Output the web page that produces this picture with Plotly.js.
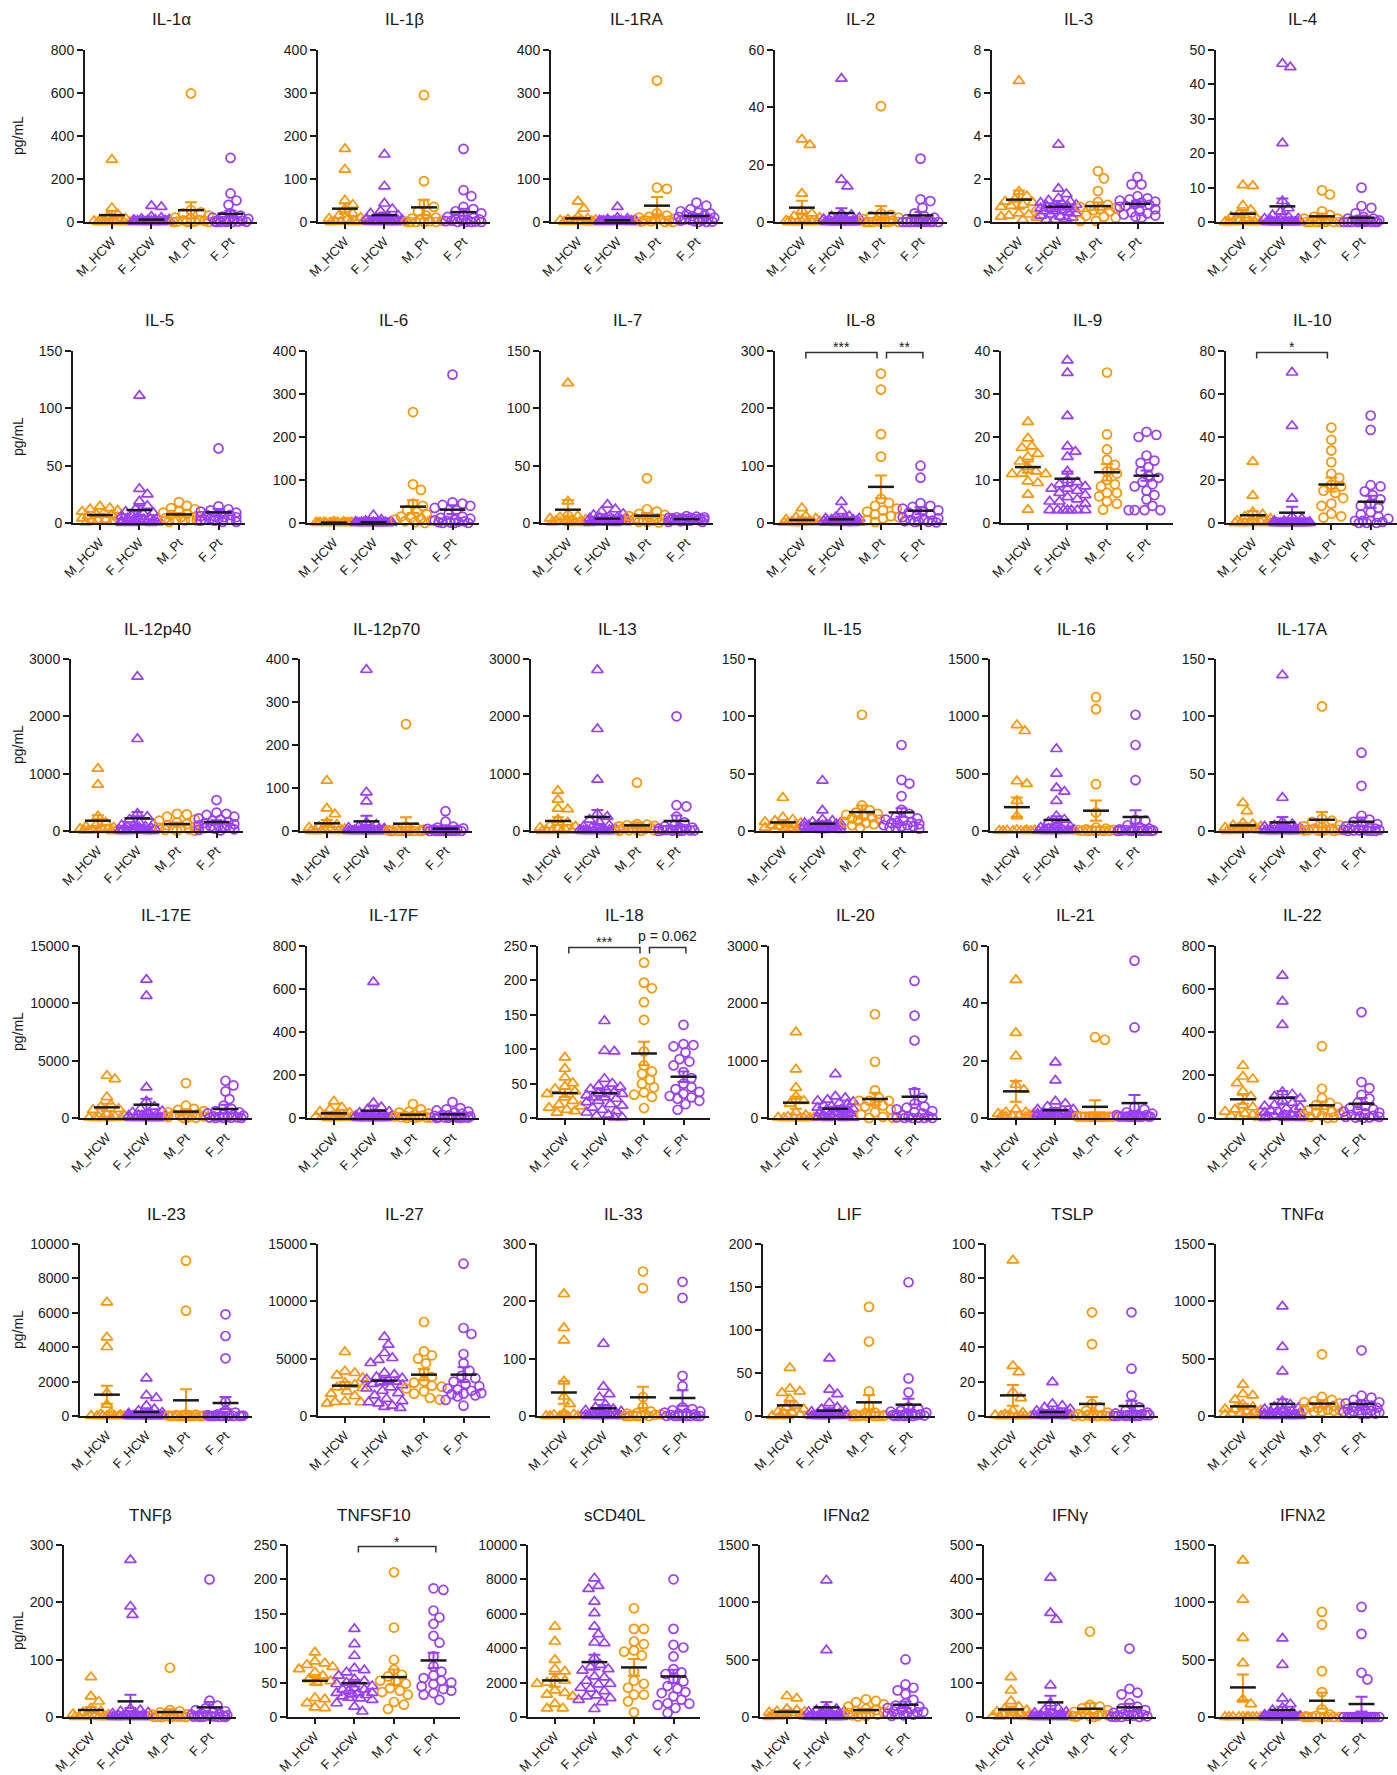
<!DOCTYPE html>
<html><head><meta charset="utf-8">
<script src="https://cdn.plot.ly/plotly-3.0.1.min.js"></script>
<style>html,body{margin:0;padding:0;background:#fff;}#chart{width:1397px;height:1775px;}</style>
</head><body><div id="chart"></div>
<script>
// ---------- categories / titles / axis ticks ----------
const groups = ['M_HCW','F_HCW','M_Pt','F_Pt'];
const titles = ['IL-1α','IL-1β','IL-1RA','IL-2','IL-3','IL-4',
  'IL-5','IL-6','IL-7','IL-8','IL-9','IL-10',
  'IL-12p40','IL-12p70','IL-13','IL-15','IL-16','IL-17A',
  'IL-17E','IL-17F','IL-18','IL-20','IL-21','IL-22',
  'IL-23','IL-27','IL-33','LIF','TSLP','TNFα',
  'TNFβ','TNFSF10','sCD40L','IFNα2','IFNγ','IFNλ2'];
const yMax = [800,400,400,60,8,50, 150,400,150,300,40,80, 3000,400,3000,150,1500,150,
  15000,800,250,3000,60,800, 10000,15000,300,200,100,1500, 300,250,10000,1500,500,1500];
const yStep = [200,100,100,20,2,10, 50,100,50,100,10,20, 1000,100,1000,50,500,50,
  5000,200,50,1000,20,200, 2000,5000,100,50,20,500, 100,50,2000,500,100,500];

// ---------- values (pg/mL), per group: M_HCW, F_HCW, M_Pt, F_Pt ----------
const IL1a = [[290,65,35,25,15,10,8,5,3,2,1,0,0,0,0,0],
 [75,70,25,20,15,12,10,10,8,8,6,5,5,4,4,3,3,2,2,2,1,1,1,0,0,0,0,0],
 [598,55,45,40,30,20,15,10,8,5,3,2,1,0,0,0],
 [298,133,100,80,40,30,25,20,15,12,10,8,6,5,3,2,1,0,0,0,0]];
const IL1a_mean=[32,11,55,38], IL1a_sem=[19,3,37,14];

const IL1b = [[170,122,50,40,30,20,15,10,8,5,3,2,1,0,0,0],
 [157,83,43,30,25,20,15,12,10,8,6,5,5,4,3,3,2,2,1,1,1,0,0,0,0,0,0,0],
 [295,95,42,35,25,15,10,8,5,3,2,1,0,0,0,0],
 [170,74,60,35,30,25,20,15,12,10,8,6,5,4,3,2,1,0,0,0,0]];
const IL1b_mean=[31,16,34,23], IL1b_sem=[12,6,18,8];

const IL1RA = [[48,31,12,8,6,5,4,3,2,2,1,1,0,0,0,0],
 [35,10,8,6,5,4,4,3,3,3,2,2,2,2,2,1,1,1,1,1,1,1,0,0,0,0,0,0],
 [329,80,77,20,15,12,10,8,6,5,4,3,2,1,0,0],
 [45,38,30,25,22,20,18,15,14,12,10,9,8,6,5,4,3,2,1,0,0]];
const IL1RA_mean=[8.5,4,38,14], IL1RA_sem=[3.5,1.3,20,3];

const IL2 = [[28.8,26.9,9.9,4,3,2,1.5,1,0.5,0,0,0,0,0,0,0],
 [50,14.8,12.4,3,2.5,2,1.5,1,1,1,0.5,0.5,0.5,0,0,0,0,0,0,0,0,0,0,0,0,0,0,0],
 [40.4,3,2.5,2,1.5,1,1,0.5,0.5,0,0,0,0,0,0,0],
 [22.1,7.9,7.3,5,3,2,1.5,1,0.5,0.5,0,0,0,0,0,0,0,0,0,0,0]];
const IL2_mean=[5,3.1,3.1,2.3], IL2_sem=[2.4,1.7,2.5,1.2];

const IL3 = [[6.56,1.41,1.2,1.05,0.95,0.9,0.8,0.75,0.7,0.6,0.4,0.35,0.3,0.25,0.2,0.1],
 [3.6,1.55,1.3,1.1,1.0,0.95,0.9,0.85,0.8,0.8,0.75,0.7,0.7,0.65,0.6,0.6,0.55,0.5,0.5,0.45,0.4,0.35,0.3,0.25,0.2,0.15,0.1,0.1],
 [2.37,2.03,1.44,0.93,0.8,0.75,0.7,0.65,0.6,0.55,0.5,0.3,0.25,0.2,0.05,0.05],
 [2.1,1.75,1.75,1.2,1.1,1.05,1.0,0.95,0.9,0.85,0.8,0.75,0.7,0.6,0.5,0.45,0.4,0.35,0.3,0.25,0.2]];
const IL3_mean=[1.04,0.71,0.74,0.84], IL3_sem=[0.42,0.13,0.17,0.11];

const IL4 = [[10.7,10.5,4.8,3.5,2.5,1.5,1,1,0.5,0,0,0,0,0,0,0],
 [46,45,22.9,6.1,4,3,2,1.5,1,1,0.5,0.5,0,0,0,0,0,0,0,0,0,0,0,0,0,0,0,0],
 [9.2,8,3.1,2,1.5,1,1,0.5,0.5,0,0,0,0,0,0,0],
 [10,4.65,4.1,2.5,1.5,1,1,0.5,0.5,0.3,0.2,0,0,0,0,0,0,0,0,0,0]];
const IL4_mean=[2.4,4.55,1.65,1.26], IL4_sem=[1.1,2.3,0.8,0.6];

const IL5 = [[14.5,13,12,11,10,9,8,7,6,5,4,3,2.5,2,1,0.5],
 [111,29.8,25,18.8,15,12,10,9,8,7,6,5,5,4,4,3,3,2,2,1,1,1,0.5,0.5,0.5,0,0,0],
 [18.2,15,13,12,10,9,8,7,6,5,4,3,3,2,2,1],
 [65,14.5,12,11,10,9,8,7,7,6,6,5,5,4,4,3,3,2,2,1,1]];
const IL5_mean=[6.9,11.3,7.5,9.3], IL5_sem=[1.2,4,1.2,3];

const IL6 = [[3,2.5,2,2,1.5,1.5,1,1,1,0.5,0.5,0.5,0,0,0,0],
 [18,8,5,4,3,2,2,2,1.5,1.5,1,1,1,1,1,0.5,0.5,0.5,0.5,0.5,0,0,0,0,0,0,0,0],
 [258,90,77,45,40,30,25,20,15,12,10,8,6,4,2,0],
 [345,48,45,42,40,35,30,20,15,12,10,8,6,5,4,3,2,1,0,0,0]];
const IL6_mean=[1,1.9,38,31], IL6_sem=[0.3,0.7,15,10];

const IL7 = [[122,18.8,8,6,5,4,3,3,2,2,1,1,0.5,0.5,0,0],
 [16,12,10,8,7,6,5,5,4,4,4,3,3,3,3,2,2,2,2,1,1,1,1,0.5,0.5,0.5,0,0],
 [39,12,10,8,7,6,5,4,4,3,3,2,2,1,1,0.5],
 [6,5.5,5,5,4.5,4.5,4,4,4,3.5,3.5,3,3,3,2.5,2.5,2,2,1.5,1,1]];
const IL7_mean=[11.6,3.8,6.4,3.4], IL7_sem=[8.5,0.8,2.4,0.3];

const IL8 = [[26,12,10,8,6,5,4,3,3,2,2,1,1,0.5,0,0],
 [37,20.8,12,10,8,8,7,6,6,5,5,4,4,4,3,3,3,2,2,2,1,1,1,0.5,0.5,0,0,0],
 [260.6,232.8,155,115.8,42,35,30,25,22,20,15,12,10,8,5,2],
 [100,79,34.7,30,28,25,22,20,18,15,12,10,8,6,5,4,3,3,2,2,1]];
const IL8_mean=[5.2,6.4,63,21.4], IL8_sem=[1.8,1.6,20,6];

const IL9 = [[23.5,19.7,17.8,17.5,16.1,15.4,14.3,13,12,11.5,11.4,11.4,9.7,9.3,6.6,3.1],
 [37.8,34.9,24.9,17.8,16.6,15.4,12,10,9.5,9,8.5,8,8,7.5,7,6.5,6,5.5,5,5,4.5,3,3,3,3,3,3,3],
 [35,20.6,17.1,14.7,13.5,12,11.5,10,9,8.5,7,7,6.2,5,4.5,3.1],
 [21.2,20.5,20,15.7,14.5,14,13,12,11,10.5,9.5,9,8.5,7.5,6.5,5.5,4,3,3,3,3]];
const IL9_mean=[13,10.3,11.8,11], IL9_sem=[1.3,1.7,1.9,1.2];

const IL10 = [[28.5,12.7,5,4,3,2,1,1,0.5,0,0,0,0,0,0,0],
 [70,45.2,11.3,3,2,1,1,0.5,0.5,0,0,0,0,0,0,0,0,0,0,0,0,0,0,0,0,0,0,0],
 [44.4,38.7,33.7,28.3,22.9,21,17.8,17,15,14,11.6,9,8,4.3,3.1,2.5],
 [50,43.3,17.6,17,14.7,13,11,9,8,7,5,4,3,2,1,1,1,0.5,0,0,0]];
const IL10_mean=[3.6,4.8,17.9,9.9], IL10_sem=[2,2.8,3.3,2.8];

const IL12p40 = [[1087,808,256,150,100,80,60,50,40,30,20,15,10,5,0,0],
 [2692,1605,302,250,200,150,120,100,90,80,70,60,50,40,30,25,20,15,10,10,5,5,0,0,0,0,0,0],
 [300,290,250,200,180,150,120,100,80,60,50,40,30,20,10,5],
 [540,320,300,280,250,220,200,180,160,140,120,100,90,80,70,60,50,40,30,20,10]];
const IL12p40_mean=[180,221,122,157], IL12p40_sem=[93,110,25,30];

const IL12p70 = [[117,52.5,39,20,15,10,8,5,3,2,1,0,0,0,0,0],
 [375,90,68.7,20,15,10,8,6,5,4,3,2,2,1,1,0,0,0,0,0,0,0,0,0,0,0,0,0],
 [248.6,10,8,5,3,2,1,0,0,0,0,0,0,0,0,0],
 [46,21.6,10,8,6,5,4,3,3,2,2,1,1,0,0,0,0,0,0,0,0]];
const IL12p70_mean=[17.8,22.4,17,5.4], IL12p70_sem=[8,13,15,2.3];

const IL13 = [[703,547,390,380,200,150,100,80,60,40,20,10,5,0,0,0],
 [2808,1779,895,300,250,200,150,100,80,60,50,40,30,20,20,10,10,5,5,0,0,0,0,0,0,0,0,0],
 [843,120,110,100,90,80,70,60,50,40,30,20,15,10,5,0],
 [2000,450,430,250,150,100,80,60,50,40,35,30,25,20,15,10,10,5,5,0,0]];
const IL13_mean=[174,244,99,175], IL13_sem=[64,122,50,95];

const IL15 = [[29,12,10,9,8,7,6,5,5,4,3,3,2,2,1,1],
 [44,18,10,9,8,7,7,6,6,6,5,5,5,4,4,4,4,3,3,3,3,2,2,2,2,1,1,1],
 [101.4,22.3,18,16,15,14,13,12,11,10,9,8,7,6,5,3],
 [75,44.6,41.4,30.4,18.5,15,12,11,10,9,8,7,7,6,5,5,4,4,3,3,2]];
const IL15_mean=[7.5,6.4,16.5,16.2], IL15_sem=[1.7,1.8,5.7,3.7];

const IL16 = [[924,872,434,411,263,130,10,8,5,5,3,2,2,1,1,0],
 [715,501,376,344,263,130,100,80,50,40,30,20,15,10,10,8,5,5,3,3,2,2,1,1,1,0,0,0],
 [1167,1063,409,162,30,20,15,10,8,5,5,3,2,1,1,0],
 [1014,750,443,98,90,50,30,20,15,10,8,5,5,3,3,2,2,1,1,0,0]];
const IL16_mean=[208,96,177,122], IL16_sem=[84,33,88,58];

const IL17A = [[24.6,17.4,7,6,5,4,3,3,2,2,1,1,0.5,0.5,0,0],
 [136,29,8,6,5,4,3,3,2,2,2,1,1,1,1,0.5,0.5,0.5,0,0,0,0,0,0,0,0,0,0],
 [108.6,10.7,9,8,5,4,3,2,2,1,1,1,0.5,0.5,0,0],
 [68.3,39.4,13.3,10,8,6,5,4,3,3,2,2,1,1,1,0.5,0.5,0.5,0,0,0]];
const IL17A_mean=[4.9,7.5,9.8,8.1], IL17A_sem=[1.8,4.8,6.7,3.7];

const IL17E = [[3684,3394,1828,1160,1000,800,700,300,200,150,100,50,20,10,0,0],
 [12068,10647,2669,1450,1000,800,600,500,400,300,250,200,150,100,80,60,50,40,30,20,10,10,5,5,0,0,0,0],
 [3046,1073,800,700,600,500,400,350,300,250,200,150,100,50,20,10],
 [3249,2843,2321,1654,1073,800,600,500,400,300,250,200,150,100,80,60,40,20,10,5,0]];
const IL17E_mean=[928,1160,551,783], IL17E_sem=[320,520,190,377];

const IL17F = [[77,49.5,40,30,25,20,15,12,10,8,5,5,3,2,1,0],
 [633,70,50,40,30,25,20,15,12,10,8,6,5,4,3,3,2,2,1,1,1,0.5,0.5,0,0,0,0,0],
 [65,40,30,25,20,15,12,10,8,6,5,4,3,2,1,0],
 [74,46,40,35,30,25,20,15,12,10,8,6,5,4,3,3,2,2,1,1,0]];
const IL17F_mean=[21.7,34,15.5,17], IL17F_sem=[6,22,4.5,4.3];

const IL18 = [[88,71.6,59,50.8,45.9,42,38.7,35,30,25,19.3,16.9,15,12,10,7.7],
 [141,97.7,96.7,57,50,47,45,42,40,38,36,35,33,30,30,28,25,23,20,18,15,12,10,8,5,3,1,1],
 [225.8,196.8,188.6,168.3,142.7,96.7,76.4,67.7,64.3,55.6,50,44.5,37.2,33.9,30.5,14.5],
 [135.4,107.4,106,104,95.3,85.6,82,76.4,66.7,58,50,45,42,38,35,32,30,28,25,20,12]];
const IL18_mean=[36.3,36.3,93.8,60], IL18_sem=[5.8,5,17,7.7];

const IL20 = [[1497,847,528,377,300,250,100,50,20,10,5,0,0,0,0,0],
 [766,377,350,320,300,280,260,240,220,200,180,160,150,140,120,100,90,80,70,60,50,40,30,20,10,5,0,0],
 [1810,981,482,350,300,300,300,260,220,200,150,100,60,20,5,0],
 [2391,1787,1352,453,350,250,200,180,150,120,100,80,50,30,20,10,5,0,0,0,0]];
const IL20_mean=[267,162,331,371], IL20_sem=[104,35,110,134];

const IL21 = [[48.2,29.7,21.6,11.6,9.9,3,2,2,1.5,1.5,1,1,1,1,0.5,0.5],
 [19.4,13.1,5.8,5,4,3,3,2,2,2,1.5,1.5,1.5,1,1,1,1,1,1,0.5,0.5,0.5,0.5,0.5,0.5,0.5,0.5,0.5],
 [28.2,27.3,0.5,0.5,0.5,0.5,0.5,0.5,0.5,0.5,0.5,0.5,0.5,0.5,0.5,0.5],
 [54.9,31.6,3.9,3,2,1.5,1,1,1,0.5,0.5,0.5,0.5,0.5,0.5,0.5,0.5,0.5,0.5,0.5,0.5]];
const IL21_mean=[9.3,2.7,3.9,5.2], IL21_sem=[3.6,0.8,2.3,2.8];

const IL22 = [[243,193,181,162,124,100,59,50,40,30,30,20,15,10,5,3],
 [662,542,433,121,110,100,90,80,70,60,55,50,45,40,35,30,25,20,15,10,10,5,5,3,2,1,0,0],
 [334,136,93,70,60,50,40,35,30,25,20,15,10,5,3,0],
 [492,167,139,108,90,70,55,45,40,35,30,25,20,15,10,8,5,5,3,2,0]];
const IL22_mean=[87,94,59,66.5], IL22_sem=[21,31,18,26];

const IL23 = [[6608,4574,4012,1337,659,200,100,50,20,10,0,0,0,0,0,0],
 [2190,1201,1047,600,400,300,200,150,100,80,50,30,20,10,5,0,0,0,0,0,0,0,0,0,0,0,0,0],
 [9031,6124,100,80,50,30,20,10,5,0,0,0,0,0,0,0],
 [5911,4651,3353,814,300,200,100,50,30,20,10,5,0,0,0,0,0,0,0,0,0]];
const IL23_mean=[1240,233,911,756], IL23_sem=[524,100,639,349];

const IL27 = [[5581,3895,3750,3546,3314,2878,2733,2500,2442,2151,1948,1744,1279,1221,1200,1100],
 [6890,6221,5494,5058,4900,4622,3750,3600,3400,3300,3200,3100,3000,2900,2800,2700,2500,2400,2200,2000,1800,1500,1300,1200,1100,900,800,700],
 [8198,5640,5291,5000,4593,3779,3400,3023,2907,2645,2558,2400,2151,1948,1570,1424],
 [13285,7674,7151,5407,4593,3953,3500,3300,3000,2800,2600,2400,2300,2200,2000,1948,1900,1800,1700,1400,901]];
const IL27_mean=[2645,3081,3605,3605], IL27_sem=[320,290,494,639];

const IL33 = [[212.8,153.5,132,60.5,34,21,5,3,2,1,0,0,0,0,0,0],
 [126,51,38,32.6,20,15,12,10,8,6,5,4,3,3,2,2,1,1,1,0.5,0.5,0,0,0,0,0,0,0],
 [252,223,33,15.7,8,5,4,3,3,2,1,0,0,0,0,0],
 [234,206,70,52,15,12,10,8,6,5,4,3,2,1,0,0,0,0,0,0,0]];
const IL33_mean=[41,13.4,32.6,31.4], IL33_sem=[19.5,5.6,18.6,13.6];

const LIF = [[56,31.7,28.6,27,19.7,12,10,8,5,4,3,2,1,0,0,0],
 [67,30.6,25.5,15,10,8,6,5,4,3,3,2,2,2,1,1,1,1,0.5,0.5,0.5,0,0,0,0,0,0,0],
 [126.9,86.6,28.6,12,4,3,2,1,1,0.5,0.5,0,0,0,0,0],
 [155.5,43.7,27.5,10,8,6,5,4,3,3,2,2,1,1,1,0.5,0.5,0,0,0,0]];
const LIF_mean=[12.4,6.2,15.9,13.2], LIF_sem=[5.4,2.7,8.5,6.9];

const TSLP = [[90.5,29.2,25.5,13.9,10.4,3,2,1,0.5,0,0,0,0,0,0,0],
 [19.7,7,6,5,4,3,2,2,1.5,1.5,1,1,1,1,0.5,0.5,0.5,0.5,0.5,0.5,0.5,0.5,0.5,0.5,0,0,0,0],
 [60.3,41.8,7,5,3,2,1,1,0.5,0.5,0,0,0,0,0,0],
 [60.3,27.5,12,7,5,3,2,1.5,1,1,0.5,0.5,0.5,0.5,0.5,0,0,0,0,0,0]];
const TSLP_mean=[12,2.3,7,5.8], TSLP_sem=[6,0.8,4,3.1];

const TNFa = [[273,192,180,142,100,80,60,60,50,40,30,25,20,15,10,5],
 [956,602,390,128,100,80,70,60,50,45,40,35,30,25,20,15,10,10,5,5,3,2,1,0,0,0,0,0],
 [538,166,140,130,120,110,100,90,80,70,60,55,50,45,40,35],
 [573,177,160,140,120,110,100,90,80,70,60,55,50,45,40,35,30,25,20,20,15]];
const TNFa_mean=[84,105,108,105], TNFa_sem=[22,40,30,28];

const TNFb = [[69.6,36,27,15,10,8,5,4,3,2,1,0,0,0,0,0],
 [273.9,192.7,178,15,12,10,8,6,5,4,3,3,2,2,1,1,1,0.5,0.5,0.5,0,0,0,0,0,0,0,0],
 [85.9,12,10,8,5,4,3,2,1,1,0.5,0.5,0,0,0,0],
 [240,28.4,20,15,12,10,8,6,5,4,3,3,2,2,1,1,0.5,0.5,0,0,0]];
const TNFb_mean=[12.2,27.3,8.7,16.8], TNFb_sem=[5.2,11.7,5,9.2];

const TNFSF10 = [[93.8,80.8,78,75.9,73,69.6,65,60,55,52,50,27.6,26,20.3,14,13],
 [128,106,89,71,68,65,60,55,52,50,48,45,42,40,40,38,35,35,35,33,32,30,28,27,25,20,15,8],
 [210.4,130,83.2,68.7,61.4,59,52.7,51.7,48.4,42,38.2,36.3,32.4,21.8,17.9,11.6],
 [187,184.7,154.8,144.6,135.4,118,108,88,73.5,66,60.4,56.6,52.7,50,48,44.5,40.6,38.2,34.8,32.4,25]];
const TNFSF10_mean=[52.7,49.3,58,82.2], TNFSF10_sem=[5.3,4.8,11,11.1];

const sCD40L = [[5260,4390,3326,2785,2650,2224,2108,2000,1934,1547,1400,1296,1199,774,503,500],
 [8064,7620,7446,6711,6034,5260,4816,4332,4300,3423,3036,2900,2785,2700,2359,2300,2108,1934,1900,1700,1644,1500,1257,1200,1102,1000,870,464],
 [6324,5125,5125,4390,4235,3868,3800,3578,2650,2108,1934,1700,1300,1296,909,271],
 [8006,5125,4197,4042,3520,2785,2600,2500,2205,2069,1800,1644,1450,1392,1200,1006,800,774,700,522,232]];
const sCD40L_mean=[2127,3191,2882,2359], sCD40L_sem=[368,426,483,387];

const IFNa2 = [[183,162,70,60,50,45,40,35,30,25,20,15,10,5,3,0],
 [1192,583,80,70,60,50,45,40,35,30,25,20,15,10,8,6,5,4,3,2,1,1,0,0,0,0,0,0],
 [154,140,130,110,90,70,60,50,40,35,30,25,20,15,10,5],
 [502,284,255,232,200,150,120,100,90,80,70,60,50,45,40,35,30,25,20,15,10]];
const IFNa2_mean=[46,84,61,107], IFNa2_sem=[14,46,12,29];

const IFNg = [[116,77,46,30,25,20,15,12,10,8,5,4,3,2,1,0],
 [405,302.7,283,92,40,25,20,15,12,10,8,6,5,4,3,3,2,2,1,1,1,0.5,0.5,0,0,0,0,0],
 [248.5,35,30,25,20,15,12,10,8,6,5,4,3,2,1,0],
 [199,82,70.6,65.8,40,30,25,20,15,12,10,8,6,5,4,3,2,1,0,0,0]];
const IFNg_mean=[22,42.5,24,28], IFNg_sem=[8,19.5,16,10.7];

const IFNl2 = [[1366,1024,690,470,154,113,0,0,0,0,0,0,0,0,0,0],
 [685,455,162,113,80,60,40,20,10,5,0,0,0,0,0,0,0,0,0,0,0,0,0,0,0,0,0,0],
 [917,806,400,217,67,20,10,5,0,0,0,0,0,0,0,0],
 [960,725,386,328,0,0,0,0,0,0,0,0,0,0,0,0,0,0,0,0,0]];
const IFNl2_mean=[258,61,142,113], IFNl2_sem=[113,29,70,64];

const panelData = [IL1a,IL1b,IL1RA,IL2,IL3,IL4,IL5,IL6,IL7,IL8,IL9,IL10,
  IL12p40,IL12p70,IL13,IL15,IL16,IL17A,IL17E,IL17F,IL18,IL20,IL21,IL22,
  IL23,IL27,IL33,LIF,TSLP,TNFa,TNFb,TNFSF10,sCD40L,IFNa2,IFNg,IFNl2];
const panelMean = [IL1a_mean,IL1b_mean,IL1RA_mean,IL2_mean,IL3_mean,IL4_mean,IL5_mean,IL6_mean,IL7_mean,IL8_mean,IL9_mean,IL10_mean,
  IL12p40_mean,IL12p70_mean,IL13_mean,IL15_mean,IL16_mean,IL17A_mean,IL17E_mean,IL17F_mean,IL18_mean,IL20_mean,IL21_mean,IL22_mean,
  IL23_mean,IL27_mean,IL33_mean,LIF_mean,TSLP_mean,TNFa_mean,TNFb_mean,TNFSF10_mean,sCD40L_mean,IFNa2_mean,IFNg_mean,IFNl2_mean];
const panelSem = [IL1a_sem,IL1b_sem,IL1RA_sem,IL2_sem,IL3_sem,IL4_sem,IL5_sem,IL6_sem,IL7_sem,IL8_sem,IL9_sem,IL10_sem,
  IL12p40_sem,IL12p70_sem,IL13_sem,IL15_sem,IL16_sem,IL17A_sem,IL17E_sem,IL17F_sem,IL18_sem,IL20_sem,IL21_sem,IL22_sem,
  IL23_sem,IL27_sem,IL33_sem,LIF_sem,TSLP_sem,TNFa_sem,TNFb_sem,TNFSF10_sem,sCD40L_sem,IFNa2_sem,IFNg_sem,IFNl2_sem];

// significance: panel, from group, to group, label
const sigPanel = [9, 9, 11, 20, 20, 31];
const sigFrom  = [0, 2, 0, 0, 2, 1];
const sigTo    = [2, 3, 2, 2, 3, 3];
const sigLabel = ['***','**','*','***','p = 0.062','*'];

// ---------- layout geometry ----------
const W = 1397, H = 1775;
const colLeft = [[85,318,551,775,992,1216],[73,307,541,775,1001,1226],[71,300,531,756,990,1216],
                 [80,307,538,769,989,1216],[80,318,537,763,986,1216],[64,288,528,760,984,1216]];
const rowTop = [50,351,659,946,1244,1545];
const PW = 172, PH = 172;
const XR = [-0.68, 3.67];
const ORANGE = '#FF9500', PURPLE = '#9B3DFF';
const gColor = [ORANGE, PURPLE, ORANGE, PURPLE];
const gSym = ['triangle-up-open','triangle-up-open','circle-open','circle-open'];
const FONT = 'Liberation Sans, Arial, Helvetica, sans-serif';
const INK = '#1a1a1a';

function swarm(vals, pxX, pxY) {
  const n = vals.length;
  const order = vals.map((v,i)=>i).sort((a,b)=>vals[b]-vals[a]);
  const cands = [0];
  for (let k=1;k<=9;k++){ cands.push(k*0.05, -k*0.05); }
  const placed = [];
  const off = new Array(n).fill(0);
  const D = 8.5;
  for (const i of order) {
    const py = vals[i]*pxY;
    let best = 0, bestD = -1;
    for (const c of cands) {
      const px = c*pxX;
      let md = Infinity;
      for (const p of placed) { const d = Math.hypot(p[0]-px, p[1]-py); if (d<md) md=d; }
      if (md >= D) { best = c; bestD = md; break; }
      if (md > bestD) { bestD = md; best = c; }
    }
    off[i] = best; placed.push([best*pxX, py]);
  }
  return off;
}

const traces = [];
const layout = {
  width: W, height: H, margin:{l:0,r:0,t:0,b:0}, autosize:false,
  paper_bgcolor:'#fff', plot_bgcolor:'#fff', showlegend:false,
  font:{family:FONT, color:INK},
  annotations: [], shapes: []
};

function geom(p) {
  const r = Math.floor(p/6), c = p%6;
  const left = colLeft[r][c];
  const right = Math.min(W, left+PW);
  return {r, c, left, right, top: rowTop[r], bottom: rowTop[r]+PH};
}

for (let p=0; p<36; p++) {
  const g = geom(p);
  const id = p===0 ? '' : String(p+1);
  const xa = 'x'+id, ya = 'y'+id;
  const pxX = (g.right-g.left)/(XR[1]-XR[0]);
  const pxY = PH/yMax[p];
  layout['xaxis'+id] = {
    domain:[g.left/W, g.right/W], anchor: ya, range: XR, fixedrange:true,
    tickmode:'array', tickvals:[0,1,2,3], ticktext: groups, tickangle:-45,
    showline:true, linecolor:INK, linewidth:2, ticks:'outside', ticklen:5, tickwidth:2, tickcolor:INK,
    showgrid:false, zeroline:false, tickfont:{family:FONT, size:13, color:INK}
  };
  layout['yaxis'+id] = {
    domain:[1-g.bottom/H, 1-g.top/H], anchor: xa, range:[0, yMax[p]], fixedrange:true,
    tick0:0, dtick:yStep[p], tickformat:'d',
    showline:true, linecolor:INK, linewidth:2, ticks:'outside', ticklen:6, tickwidth:2, tickcolor:INK,
    showgrid:false, zeroline:false, tickfont:{family:FONT, size:14, color:INK}
  };
  for (let k=0; k<4; k++) {
    const vals = panelData[p][k];
    const off = swarm(vals, pxX, pxY);
    traces.push({
      type:'scatter', mode:'markers', xaxis:xa, yaxis:ya, cliponaxis:false, hoverinfo:'skip',
      x: off.map(o=>k+o), y: vals,
      marker:{symbol:gSym[k], color:gColor[k], size: k<2 ? 10 : 9, line:{width:1.7, color:gColor[k]}}
    });
  }
  for (let k=0; k<4; k++) {
    traces.push({
      type:'scatter', mode:'markers', xaxis:xa, yaxis:ya, cliponaxis:false, hoverinfo:'skip',
      x:[k], y:[panelMean[p][k]],
      error_y:{type:'data', array:[panelSem[p][k]], visible:true, color:gColor[k], thickness:2, width:6},
      marker:{symbol:'line-ew', size:18.5, color:INK, line:{width:2.5, color:INK}}
    });
  }
  // title
  layout.annotations.push({
    xref:'paper', yref:'paper', x:(g.left+PW/2)/W, y:1-(g.top-30)/H, xanchor:'center', yanchor:'middle',
    text:titles[p], showarrow:false, font:{family:FONT, size:17, color:INK}
  });
  if (g.c === 0) {
    layout.annotations.push({
      xref:'paper', yref:'paper', x:18/W, y:1-(g.top+PH/2)/H, xanchor:'center', yanchor:'middle',
      text:'pg/mL', textangle:-90, showarrow:false, font:{family:FONT, size:14, color:INK}
    });
  }
}

// significance brackets
for (let s=0; s<sigPanel.length; s++) {
  const p = sigPanel[s], g = geom(p);
  const pxX = (g.right-g.left)/(XR[1]-XR[0]);
  const c0 = sigFrom[s] + (sigFrom[s]===2 ? 0.14 : 0.1);
  const c1 = sigTo[s] + (sigTo[s]===3 ? 0.06 : -0.1);
  const X0 = g.left + (c0-XR[0])*pxX, X1 = g.left + (c1-XR[0])*pxX;
  const Ytop = g.top + 1.5, Yleg = Ytop + 6;
  layout.shapes.push({
    type:'path', xref:'paper', yref:'paper',
    path:'M'+(X0/W)+','+(1-Yleg/H)+' L'+(X0/W)+','+(1-Ytop/H)+' L'+(X1/W)+','+(1-Ytop/H)+' L'+(X1/W)+','+(1-Yleg/H),
    line:{color:'#333', width:1.5}
  });
  const isP = sigLabel[s].startsWith('p');
  layout.annotations.push({
    xref:'paper', yref:'paper', x:((X0+X1)/2)/W, y:1-(Ytop-(isP?2:-5))/H, xanchor:'center', yanchor:'bottom',
    text:sigLabel[s], showarrow:false, font:{family:FONT, size:14, color:INK}
  });
}

Plotly.newPlot('chart', traces, layout, {staticPlot:true, displayModeBar:false});
</script></body></html>
